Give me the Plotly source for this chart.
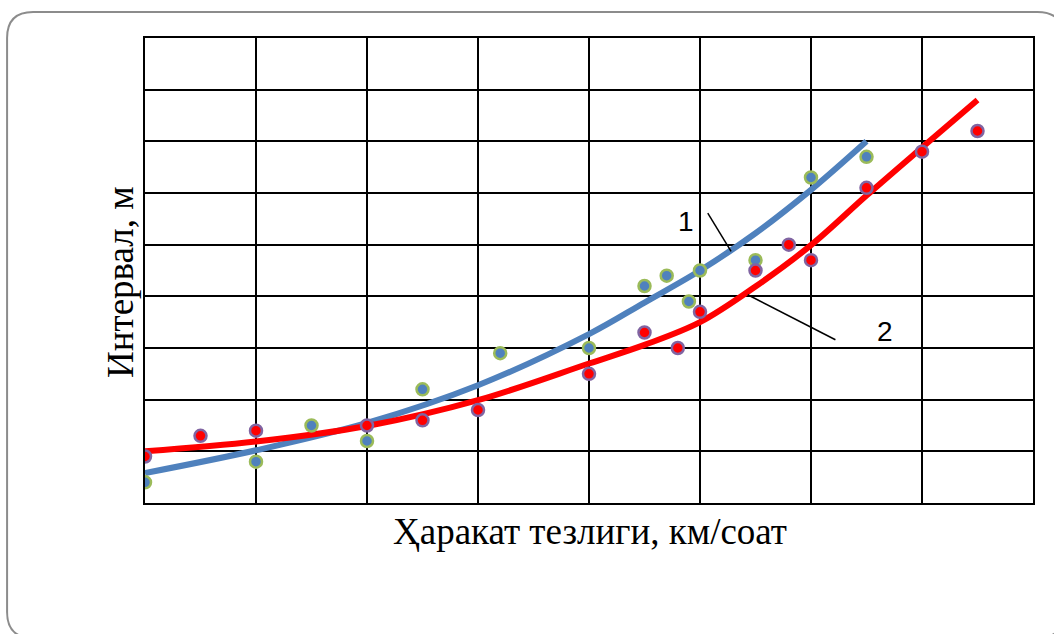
import plotly.graph_objects as go

# Measured points, series 1 (blue) and series 2 (red)
speed_1 = [0, 1, 1.5, 2, 2.5, 3.2, 4, 4.5, 4.7, 4.9, 5, 5.5, 6, 6.5]
interval_1 = [0.4, 0.8, 1.5, 1.2, 2.2, 2.9, 3.0, 4.2, 4.4, 3.9, 4.5, 4.7, 6.3, 6.7]

speed_2 = [0, 0.5, 1, 2, 2.5, 3, 4, 4.5, 4.8, 5, 5.5, 5.8, 6, 6.5, 7, 7.5]
interval_2 = [0.9, 1.3, 1.4, 1.5, 1.6, 1.8, 2.5, 3.3, 3.0, 3.7, 4.5, 5.0, 4.7, 6.1, 6.8, 7.2]

# Trend curves
trend_x_1 = [0, 1, 2, 3, 4, 4.5, 5, 5.5, 6, 6.5]
trend_y_1 = [0.58, 1.02, 1.55, 2.28, 3.27, 3.88, 4.5, 5.22, 6.06, 7.0]

trend_x_2 = [0, 1, 2, 3, 4, 4.5, 5, 5.5, 6, 6.5, 7, 7.5]
trend_y_2 = [1.0, 1.19, 1.49, 1.99, 2.7, 3.06, 3.5, 4.19, 4.99, 5.95, 6.88, 7.8]

# Curve labels and their leader lines
label_text = ["1", "2"]
label_x = [4.87, 6.67]
label_y = [5.44, 3.31]
leader_x0 = [5.07, 5.43]
leader_y0 = [5.61, 4.03]
leader_x1 = [5.28, 6.22]
leader_y1 = [4.87, 3.16]

x_title = "Ҳаракат тезлиги, км/соат"
y_title = "Интервал, м"

W, H = 1054, 634
L, R, T, B = 145, 1033.5, 38, 503


def px(x):
    return (x - L) / (R - L)


def py(y):
    return (B - y) / (B - T)


BLUE = "#4F81BD"
RED = "#FF0000"

fig = go.Figure()
fig.add_trace(go.Scatter(x=trend_x_1, y=trend_y_1, mode="lines",
                         line=dict(color=BLUE, width=6, shape="spline", smoothing=1.0),
                         hoverinfo="skip"))
fig.add_trace(go.Scatter(x=trend_x_2, y=trend_y_2, mode="lines",
                         line=dict(color=RED, width=6, shape="spline", smoothing=1.0),
                         hoverinfo="skip"))
fig.add_trace(go.Scatter(x=speed_1, y=interval_1, mode="markers",
                         marker=dict(size=12, color=BLUE, line=dict(color="#9BBB59", width=2.5))))
fig.add_trace(go.Scatter(x=speed_2, y=interval_2, mode="markers",
                         marker=dict(size=12, color=RED, line=dict(color="#8064A2", width=2.5))))

for x0, y0, x1, y1 in zip(leader_x0, leader_y0, leader_x1, leader_y1):
    fig.add_shape(type="line", x0=x0, y0=y0, x1=x1, y1=y1, xref="x", yref="y",
                  line=dict(color="black", width=1.5))

for t, x, y in zip(label_text, label_x, label_y):
    fig.add_annotation(x=x, y=y, text=t, showarrow=False, xref="x", yref="y",
                       xanchor="center", yanchor="middle",
                       font=dict(family="Liberation Sans, Arial", size=28, color="black"))

# Rounded outer frame
fl, ft, fr, fb, r = 7, 12, 1064, 638, 26
path = (f"M {px(fl)} {py(ft + r)} "
        f"Q {px(fl)} {py(ft)} {px(fl + r)} {py(ft)} "
        f"L {px(fr - r)} {py(ft)} "
        f"Q {px(fr)} {py(ft)} {px(fr)} {py(ft + r)} "
        f"L {px(fr)} {py(fb - r)} "
        f"Q {px(fr)} {py(fb)} {px(fr - r)} {py(fb)} "
        f"L {px(fl + r)} {py(fb)} "
        f"Q {px(fl)} {py(fb)} {px(fl)} {py(fb - r)} Z")
fig.add_shape(type="path", path=path, xref="paper", yref="paper",
              line=dict(color="#8C8C8C", width=2), layer="below")

fig.add_annotation(x=px(590), y=py(531), xref="paper", yref="paper", text=x_title,
                   showarrow=False, xanchor="center", yanchor="middle",
                   font=dict(family="Liberation Serif, Times New Roman", size=37, color="black"))
fig.add_annotation(x=px(120), y=py(282), xref="paper", yref="paper", text=y_title,
                   showarrow=False, textangle=-90, xanchor="center", yanchor="middle",
                   font=dict(family="Liberation Serif, Times New Roman", size=37, color="black"))

axis_common = dict(showgrid=True, gridcolor="black", gridwidth=2, zeroline=False,
                   showticklabels=False, ticks="", showline=True, linecolor="black",
                   linewidth=2, mirror=True, fixedrange=True)
fig.update_xaxes(range=[0, 8], dtick=1, tick0=0, **axis_common)
fig.update_yaxes(range=[0, 9], dtick=1, tick0=0, **axis_common)

fig.update_layout(width=W, height=H, showlegend=False,
                  margin=dict(l=L, r=W - R, t=T, b=H - B),
                  paper_bgcolor="white", plot_bgcolor="white")

fig.write_html("out.html")
